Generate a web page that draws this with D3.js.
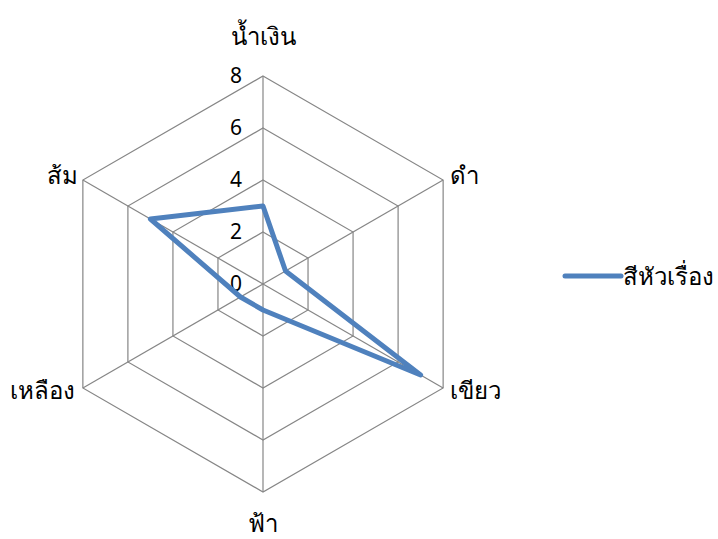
<!DOCTYPE html>
<html>
<head>
<meta charset="utf-8">
<script src="https://cdn.jsdelivr.net/npm/d3@7"></script>
<style>
  body { margin: 0; background: #fff; }
  text { font-family: "Noto Sans", "DejaVu Sans", sans-serif; fill: #000; }
</style>
</head>
<body>
<div id="chart"></div>
<script>
const width = 718, height = 539,
  cx = 263, cy = 284,
  radius = 208,
  gridColor = "#868686",
  lineColor = "#4f81bd"

// data
const categories = ["น้ำเงิน", "ดำ", "เขียว", "ฟ้า", "เหลือง", "ส้ม"]
const values = [3, 1, 7, 1, 1, 5]
const ticks = [0, 2, 4, 6, 8]
const seriesName = "สีหัวเรื่อง"

const svg = d3.select("#chart").append("svg")
  .attr("width", width)
  .attr("height", height)

const r = d3.scaleLinear().domain([0, 8]).range([0, radius])
const angle = d3.scalePoint().domain(categories).range([0, 2 * Math.PI * (categories.length - 1) / categories.length])

function pt(cat, v) {
  const a = angle(cat)
  return [cx + r(v) * Math.sin(a), cy - r(v) * Math.cos(a)]
}

// grid rings
const grid = svg.append("g")
ticks.filter(t => t > 0).forEach(t => {
  grid.append("polygon")
    .attr("points", categories.map(c => pt(c, t).join(",")).join(" "))
    .attr("fill", "none")
    .attr("stroke", gridColor)
    .attr("stroke-width", 1.2)
})

// spokes
grid.selectAll("line")
  .data(categories)
  .enter()
  .append("line")
  .attr("x1", cx).attr("y1", cy)
  .attr("x2", d => pt(d, 8)[0])
  .attr("y2", d => pt(d, 8)[1])
  .attr("stroke", gridColor)
  .attr("stroke-width", 1.2)

// tick labels along the top spoke
svg.selectAll(".tick")
  .data(ticks)
  .enter()
  .append("text")
  .attr("class", "tick")
  .attr("x", cx - 27)
  .attr("y", d => cy - r(d))
  .attr("dy", "0.35em")
  .attr("text-anchor", "middle")
  .style("font-size", "21px")
  .text(d => d)

// series line
svg.append("path")
  .datum(categories.map((c, i) => pt(c, values[i])))
  .attr("d", d3.line().curve(d3.curveLinearClosed))
  .attr("fill", "none")
  .attr("stroke", lineColor)
  .attr("stroke-width", 5)
  .attr("stroke-linejoin", "round")

// category labels
const labelPos = [
  { dx: 0, dy: -31, anchor: "middle" },
  { dx: 7, dy: 4, anchor: "start" },
  { dx: 7, dy: 11, anchor: "start" },
  { dx: 0, dy: 40, anchor: "middle" },
  { dx: -8, dy: 11, anchor: "end" },
  { dx: -5, dy: 4, anchor: "end" }
]
svg.selectAll(".cat")
  .data(categories)
  .enter()
  .append("text")
  .attr("class", "cat")
  .attr("x", (d, i) => pt(d, 8)[0] + labelPos[i].dx)
  .attr("y", (d, i) => pt(d, 8)[1] + labelPos[i].dy)
  .attr("text-anchor", (d, i) => labelPos[i].anchor)
  .style("font-size", "24px")
  .text(d => d)

// legend
const legend = svg.append("g").attr("transform", "translate(565,276)")
legend.append("line")
  .attr("x1", 0).attr("x2", 56)
  .attr("stroke", lineColor)
  .attr("stroke-width", 5)
  .attr("stroke-linecap", "round")
legend.append("text")
  .attr("x", 58)
  .attr("y", 9)
  .style("font-size", "24px")
  .text(seriesName)
</script>
</body>
</html>
